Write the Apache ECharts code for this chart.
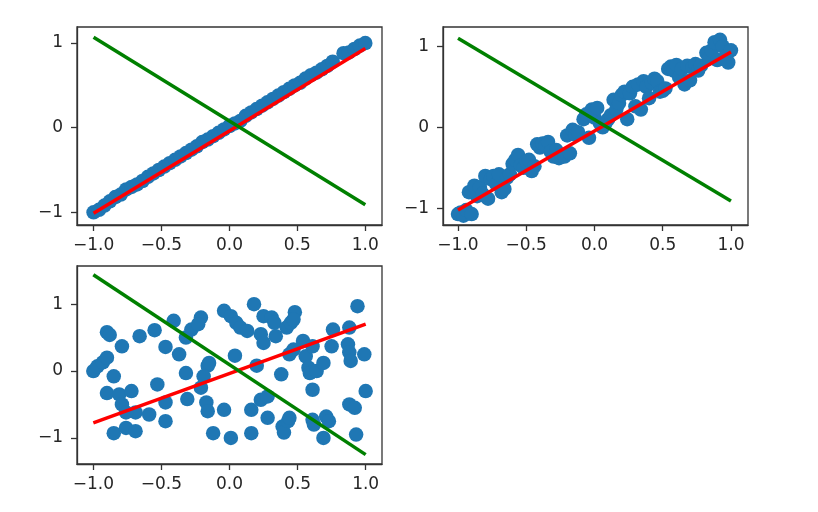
<!DOCTYPE html>
<html><head><meta charset="utf-8">
<script src="https://cdn.jsdelivr.net/npm/echarts@6/dist/echarts.min.js"></script>
<style>html,body{margin:0;padding:0;background:#fff}#c{width:818px;height:512px}</style>
</head><body><div id="c"></div>
<script>
// Tick labels
const xTicks = [-1.0, -0.5, 0.0, 0.5, 1.0];
const yTicks = [-1, 0, 1];

// Fitted / reference lines (x endpoints)
const lineX = [-1, 1];
const p1Red = [-1.01, 0.935];
const p1Green = [1.07, -0.91];
const p2Red = [-1.02, 0.93];
const p2Green = [1.10, -0.91];
const p3Red = [-0.775, 0.70];
const p3Green = [1.44, -1.25];

// Panel 1 scatter
const p1X = [-1.00,-0.96,-0.92,-0.88,-0.84,-0.80,-0.76,-0.72,-0.68,-0.64,-0.60,-0.56,-0.52,-0.48,-0.44,-0.40,-0.36,-0.32,-0.28,-0.24,-0.20,-0.16,-0.12,-0.08,-0.04,0.00,0.04,0.08,0.12,0.16,0.20,0.24,0.28,0.32,0.36,0.40,0.44,0.48,0.52,0.56,0.60,0.64,0.68,0.72,0.76,0.84,0.88,0.92,0.96,1.00];
const p1Y = [-1.00,-0.97,-0.92,-0.87,-0.82,-0.79,-0.73,-0.70,-0.67,-0.63,-0.58,-0.54,-0.50,-0.46,-0.42,-0.38,-0.34,-0.30,-0.26,-0.22,-0.17,-0.14,-0.10,-0.06,-0.02,0.02,0.05,0.08,0.14,0.18,0.22,0.26,0.30,0.34,0.38,0.42,0.46,0.50,0.53,0.58,0.62,0.65,0.69,0.73,0.78,0.88,0.89,0.93,0.97,1.00];

// Panel 2 scatter
const p2X = [-1.00,-0.98,-0.96,-0.94,-0.92,-0.90,-0.88,-0.86,-0.84,-0.82,-0.80,-0.78,-0.76,-0.74,-0.72,-0.70,-0.68,-0.66,-0.64,-0.62,-0.60,-0.58,-0.56,-0.54,-0.52,-0.50,-0.48,-0.46,-0.44,-0.42,-0.40,-0.38,-0.36,-0.34,-0.32,-0.30,-0.28,-0.26,-0.24,-0.22,-0.20,-0.18,-0.16,-0.14,-0.12,-0.08,-0.06,-0.04,-0.02,0.00,0.02,0.04,0.06,0.08,0.10,0.12,0.14,0.16,0.18,0.20,0.22,0.24,0.26,0.28,0.30,0.32,0.34,0.36,0.38,0.40,0.42,0.44,0.46,0.48,0.50,0.52,0.54,0.56,0.58,0.60,0.62,0.64,0.66,0.68,0.70,0.72,0.74,0.76,0.78,0.82,0.84,0.86,0.88,0.90,0.92,0.94,0.96,0.98,1.00];
const p2Y = [-1.07,-1.05,-1.09,-1.02,-0.80,-1.07,-0.72,-0.85,-0.74,-0.82,-0.60,-0.88,-0.64,-0.60,-0.70,-0.58,-0.80,-0.76,-0.62,-0.58,-0.45,-0.40,-0.34,-0.47,-0.50,-0.42,-0.40,-0.54,-0.48,-0.21,-0.25,-0.20,-0.23,-0.18,-0.30,-0.36,-0.28,-0.38,-0.35,-0.36,-0.10,-0.32,-0.03,-0.09,-0.06,0.10,0.16,-0.13,0.22,0.12,0.24,0.05,0.00,0.05,0.10,0.15,0.34,0.22,0.30,0.40,0.44,0.10,0.42,0.50,0.26,0.53,0.22,0.57,0.50,0.36,0.55,0.60,0.57,0.44,0.45,0.48,0.72,0.75,0.70,0.77,0.62,0.72,0.53,0.76,0.58,0.74,0.78,0.70,0.76,0.92,0.85,0.95,1.05,0.83,1.08,1.00,0.87,0.80,0.95];

// Panel 3 scatter
const p3X = [-1.00,-0.97,-0.93,-0.90,-0.90,-0.88,-0.79,-0.85,-0.90,-0.81,-0.79,-0.72,-0.69,-0.76,-0.85,-0.76,-0.69,-0.66,-0.59,-0.55,-0.53,-0.47,-0.47,-0.47,-0.41,-0.37,-0.32,-0.31,-0.32,-0.28,-0.21,-0.23,-0.21,-0.16,-0.15,-0.17,-0.16,-0.12,-0.19,-0.04,0.01,-0.04,0.01,0.04,0.05,0.08,0.13,0.16,0.16,0.18,0.20,0.23,0.25,0.25,0.23,0.28,0.28,0.31,0.33,0.34,0.38,0.39,0.40,0.43,0.44,0.42,0.45,0.48,0.47,0.44,0.47,0.54,0.56,0.58,0.59,0.61,0.61,0.61,0.62,0.64,0.69,0.69,0.71,0.73,0.75,0.76,0.87,0.88,0.89,0.88,0.92,0.93,0.88,0.94,0.99,1.00];
const p3Y = [0.00,0.07,0.13,0.20,0.58,0.54,0.37,-0.08,-0.33,-0.35,-0.50,-0.30,-0.62,-0.62,-0.93,-0.85,-0.90,0.52,-0.65,0.61,-0.20,0.36,-0.47,-0.75,0.75,0.25,-0.03,-0.42,0.50,0.62,0.80,0.70,-0.25,0.08,0.12,-0.47,-0.60,-0.93,-0.08,0.90,0.82,-0.58,-1.00,0.23,0.72,0.65,0.60,-0.58,-0.93,1.00,0.08,0.55,0.82,0.42,-0.43,-0.70,-0.38,0.80,0.72,0.52,-0.05,-0.83,-0.92,-0.75,-0.70,0.65,0.72,0.88,0.77,0.25,0.32,0.45,0.22,0.05,-0.03,0.37,-0.28,-0.73,-0.80,0.00,0.12,-1.00,-0.68,-0.75,0.37,0.62,0.40,0.28,0.15,-0.50,-0.55,-0.95,0.65,0.97,0.25,-0.30];

const panels = [
  {x: p1X, y: p1Y, red: p1Red, green: p1Green},
  {x: p2X, y: p2Y, red: p2Red, green: p2Green},
  {x: p3X, y: p3Y, red: p3Red, green: p3Green}
];
const grids = [
  {left: 77, top: 27, width: 305, height: 198},
  {left: 443, top: 27, width: 305, height: 198},
  {left: 77, top: 266, width: 305, height: 198}
];
const xRanges = [[-1.122, 1.123], [-1.11, 1.125], [-1.12, 1.12]];
const yRanges = [[-1.15, 1.19], [-1.205, 1.238], [-1.39, 1.57]];

const FONT = 'DejaVu Sans';
const TXT = '#262626';
const AX = '#333';
function fmtX(v){ return (v < 0 ? '\u2212' : '') + Math.abs(v).toFixed(1); }
function fmtY(v){ return (v < 0 ? '\u2212' : '') + Math.abs(Math.round(v)); }

const option = {
  animation: false,
  backgroundColor: '#fff',
  grid: grids.map(g => Object.assign({show: true, borderColor: AX, borderWidth: 1.3, backgroundColor: 'transparent', containLabel: false}, g)),
  xAxis: grids.map((g, i) => ({
    type: 'value', gridIndex: i, min: xRanges[i][0], max: xRanges[i][1], position: 'bottom',
    axisLine: {show: true, onZero: false, lineStyle: {color: AX, width: 1.3}},
    splitLine: {show: false},
    axisTick: {show: true, length: 6, inside: false, lineStyle: {color: AX, width: 1.3}, customValues: xTicks},
    axisLabel: {show: true, margin: 12, fontFamily: FONT, fontSize: 17, color: TXT, customValues: xTicks, formatter: fmtX}
  })),
  yAxis: grids.map((g, i) => ({
    type: 'value', gridIndex: i, min: yRanges[i][0], max: yRanges[i][1], position: 'left',
    axisLine: {show: true, onZero: false, lineStyle: {color: AX, width: 1.3}},
    splitLine: {show: false},
    axisTick: {show: true, length: 6, inside: false, lineStyle: {color: AX, width: 1.3}, customValues: yTicks},
    axisLabel: {show: true, margin: 14, fontFamily: FONT, fontSize: 17, color: TXT, customValues: yTicks, formatter: fmtY}
  })),
  series: []
};

panels.forEach((p, i) => {
  option.series.push({
    type: 'scatter', xAxisIndex: i, yAxisIndex: i, symbol: 'circle', symbolSize: 14.5,
    itemStyle: {color: '#1f77b4', opacity: 1}, silent: true,
    data: p.x.map((xv, k) => [xv, p.y[k]])
  });
  option.series.push({
    type: 'line', xAxisIndex: i, yAxisIndex: i, showSymbol: false, silent: true,
    lineStyle: {color: '#ff0000', width: 3.5},
    data: lineX.map((xv, k) => [xv, p.red[k]])
  });
  option.series.push({
    type: 'line', xAxisIndex: i, yAxisIndex: i, showSymbol: false, silent: true,
    lineStyle: {color: '#008000', width: 3.5},
    data: lineX.map((xv, k) => [xv, p.green[k]])
  });
});

const chart = echarts.init(document.getElementById('c'), null, {renderer: 'canvas'});
chart.setOption(option);
</script>
</body></html>
